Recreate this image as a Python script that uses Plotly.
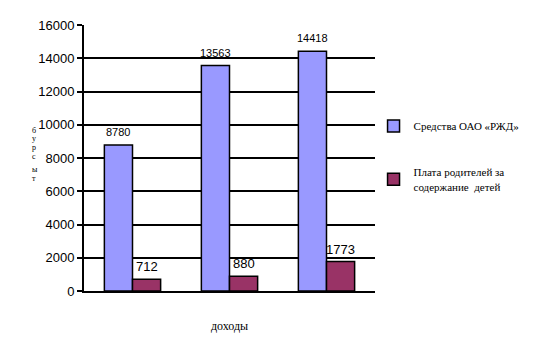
import plotly.graph_objects as go

categories = [0, 1, 2]
rzd_funds = [8780, 13563, 14418]
parent_fees = [712, 880, 1773]
series_names = ["Средства ОАО «РЖД»", "Плата родителей за<br>содержание  детей"]
y_ticks = [0, 2000, 4000, 6000, 8000, 10000, 12000, 14000, 16000]
y_title_letters = ["б", "у", "р", "с", "ы", "т"]
y_title_pos = [0.605, 0.572, 0.539, 0.506, 0.455, 0.422]  # paper y of each stacked letter

BAR_W = 0.29

fig = go.Figure()
fig.add_trace(go.Bar(
    x=categories, y=rzd_funds, name=series_names[0], legendgroup="a",
    width=BAR_W, offset=-BAR_W,
    marker=dict(color="#9999FF", line=dict(color="black", width=1.5)),
))
fig.add_trace(go.Bar(
    x=categories, y=parent_fees, name=series_names[1], legendgroup="b",
    width=BAR_W, offset=0,
    marker=dict(color="#993366", line=dict(color="black", width=1.5)),
))

annotations = [dict(text=ch, xref="paper", yref="paper", x=-0.185, y=yy, showarrow=False,
                    font=dict(family="Liberation Serif, Times New Roman", size=8, color="black"))
               for ch, yy in zip(y_title_letters, y_title_pos)]
for c, v in zip(categories, rzd_funds):
    annotations.append(dict(x=c - BAR_W / 2, y=v, text=str(v), showarrow=False,
                            yanchor="bottom", yshift=5,
                            font=dict(family="Liberation Sans, Arial", size=11, color="black")))
for c, v in zip(categories, parent_fees):
    annotations.append(dict(x=c + BAR_W / 2, y=v, text=str(v), showarrow=False,
                            yanchor="bottom", yshift=3,
                            font=dict(family="Liberation Sans, Arial", size=13, color="black")))

fig.update_layout(
    width=535, height=353,
    margin=dict(l=84, r=160, t=25, b=62, autoexpand=False),
    paper_bgcolor="white", plot_bgcolor="white",
    font=dict(family="Liberation Serif, Times New Roman", color="black"),
    showlegend=True,
    legend=dict(x=0.995, xanchor="left", y=0.675, yanchor="top",
                font=dict(family="Liberation Serif, Times New Roman", size=11, color="black"),
                tracegroupgap=28, itemwidth=30, bgcolor="rgba(0,0,0,0)"),
    xaxis=dict(range=[-0.5, 2.5], showticklabels=False, ticks="", showgrid=False, zeroline=False,
               showline=True, linecolor="black", linewidth=2,
               title=dict(text="доходы", font=dict(family="Liberation Serif, Times New Roman", size=12),
                          standoff=30)),
    yaxis=dict(range=[0, 16000], tickvals=y_ticks, ticktext=[str(v) for v in y_ticks],
               showgrid=True, gridcolor="black", gridwidth=1.5,
               zeroline=False, showline=True, linecolor="black", linewidth=2,
               ticks="outside", ticklen=5, tickwidth=1.5, tickcolor="black",
               tickfont=dict(family="Liberation Sans, Arial", size=13, color="black")),
    annotations=annotations,
)

fig.write_html("out.html")
